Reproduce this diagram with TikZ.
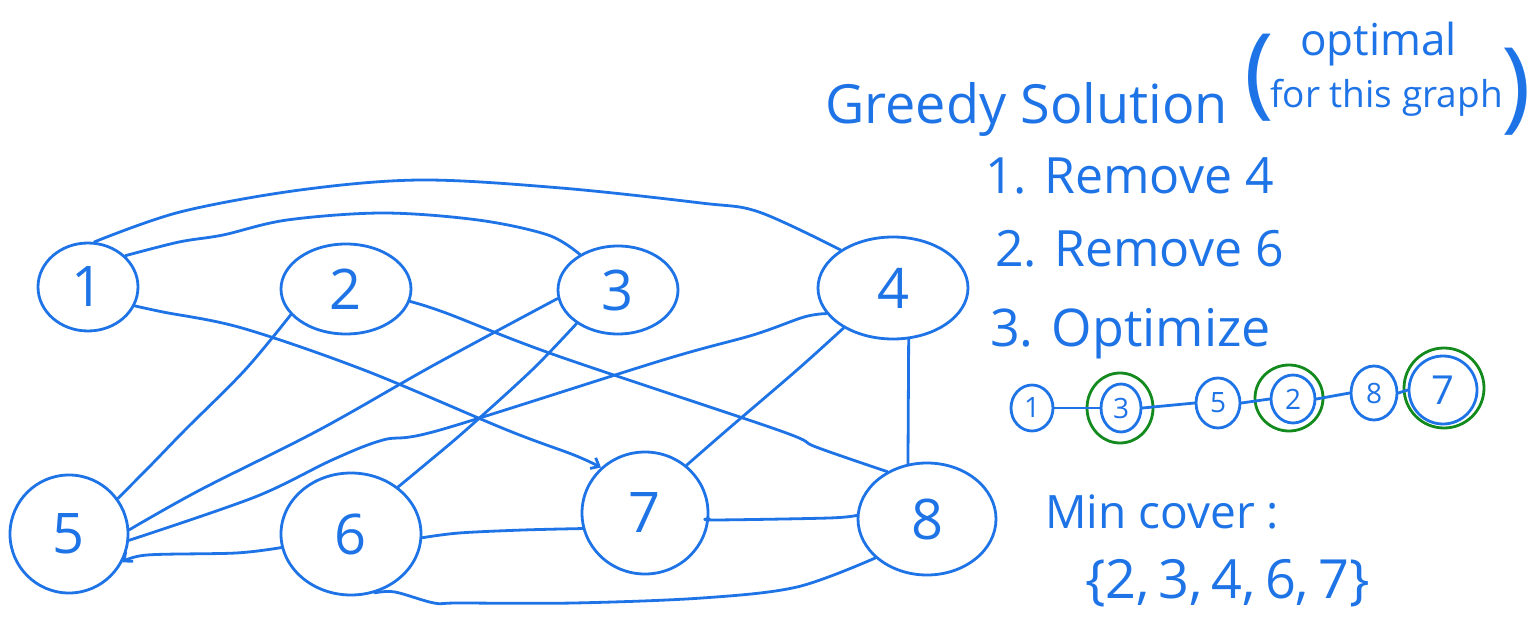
\documentclass[tikz,border=0pt]{standalone}
\usepackage{fontspec}
\setmainfont{Open Sans}
\usetikzlibrary{shapes.geometric,arrows.meta}
\definecolor{ink}{HTML}{1E74E6}
\definecolor{gink}{HTML}{138A1E}
\begin{document}
\begin{tikzpicture}[x=1pt,y=-1pt,
  pen/.style={draw=ink, line width=2.8pt, line cap=round, line join=round},
  gnode/.style={pen, ellipse, inner sep=0pt, text=ink, font=\fontsize{56}{56}\selectfont},
  cnode/.style={pen, ellipse, inner sep=0pt, text=ink, font=\fontsize{28}{28}\selectfont},
  gring/.style={draw=gink, line width=2.8pt, ellipse, inner sep=0pt},
  hand/.style={text=ink, inner sep=0pt, anchor=base west},
  barb/.style={-{Straight Barb[length=7pt,width=12pt]}}
]
\fill[white] (0,0) rectangle (1528,620);
\useasboundingbox (0,0) rectangle (1528,620);

% main graph nodes
\node[gnode, minimum width=100pt, minimum height=88pt]  (n1) at (88,287)  {1};
\node[gnode, minimum width=130pt, minimum height=90pt]  (n2) at (346,289) {2};
\node[gnode, minimum width=120pt, minimum height=88pt]  (n3) at (618,290) {3};
\node[gnode, minimum width=150pt, minimum height=102pt] (n4) at (893,288) {4};
\node[gnode, minimum width=118pt, minimum height=118pt] (n5) at (69,534)  {5};
\node[gnode, minimum width=140pt, minimum height=122pt] (n6) at (351,534) {6};
\node[gnode, minimum width=126pt, minimum height=122pt] (n7) at (645,513) {7};
\node[gnode, minimum width=138pt, minimum height=112pt] (n8) at (927,519) {8};

% edges
\draw[pen] plot[smooth, tension=0.55] coordinates {(n1.82) (180,212) (300,190) (421,180) (561,188) (701,203) (759,212) (n4.144)};
\draw[pen] plot[smooth, tension=0.55] coordinates {(n1.40) (179,242) (223,235) (287,220) (383,213) (478,220) (548,235) (n3.137)};
\draw[pen, barb] plot[smooth, tension=0.55] coordinates {(n1.-22) (163,312) (242,328) (364,370) (507,430) (574,455) (n7.134)};
\draw[pen] plot[smooth, tension=0.55] coordinates {(n2.-11) (446,313) (555,355) (778,430) (816,447) (n8.130)};
\draw[pen] plot[smooth, tension=0.55] coordinates {(n2.205) (245,370) (185,430) (153,463) (n5.36)};
\draw[pen] plot[smooth, tension=0.55] coordinates {(n3.188) (434,365) (319,430) (200,490) (n5.4)};
\draw[pen] plot[smooth, tension=0.55] coordinates {(n3.219) (532,370) (466,430) (427,463) (n6.45)};
\draw[pen] plot[smooth, tension=0.55] coordinates {(n4.201) (804,317) (753,335) (663,360) (440,430) (383,440) (332,460) (255,497) (n5.-6)};
\draw[pen] plot[smooth, tension=0.55] coordinates {(n4.219) (797,370) (727,430) (n7.49)};
\draw[pen] (n4.-73) -- (n8.109);
\draw[pen, barb] plot[smooth, tension=0.55] coordinates {(n6.191) (236,553) (147,555) (n5.-28)};
\draw[pen] plot[smooth, tension=0.55] coordinates {(n6.-3) (459,533) (523,530) (n7.194)};
\draw[pen] plot[smooth, tension=0.55] coordinates {(n7.-5) (714,520) (829,518) (n8.177)};
\draw[pen] plot[smooth, tension=0.55] coordinates {(n6.-68) (395,592) (434,603) (459,603) (574,603) (702,598) (797,587) (n8.217)};

% right side text
\node[hand, font=\fontsize{54}{54}\selectfont] (t1) at (825,124) {Greedy Solution};
\node[text=ink, inner sep=0pt, font=\fontsize{100}{100}\selectfont] (po) at (1259,78) {(};
\node[hand, font=\fontsize{44}{44}\selectfont] (t2) at (1300,56) {optimal};
\node[hand, font=\fontsize{37}{37}\selectfont] (t3) at (1270,108) {for this graph};
\node[text=ink, inner sep=0pt, font=\fontsize{100}{100}\selectfont] (pc) at (1516,92) {)};
\node[hand, font=\fontsize{50}{50}\selectfont] (s1) at (985,194) {1. Remove 4};
\node[hand, font=\fontsize{50}{50}\selectfont] (s2) at (995,266) {2. Remove 6};
\node[hand, font=\fontsize{52}{52}\selectfont] (s3) at (990,346) {3. Optimize};

% chain
\node[cnode, minimum width=42pt, minimum height=46pt] (c1) at (1032,408) {1};
\node[cnode, minimum width=40pt, minimum height=48pt] (c3) at (1121,408) {3};
\node[gring, minimum width=66pt, minimum height=70pt] (g3) at (1120,408) {};
\node[cnode, minimum width=44pt, minimum height=50pt] (c5) at (1218,403) {5};
\node[cnode, minimum width=44pt, minimum height=48pt] (c2) at (1293,399) {2};
\node[gring, minimum width=68pt, minimum height=66pt] (g2) at (1289,398) {};
\node[cnode, minimum width=46pt, minimum height=54pt] (c8) at (1374,393) {8};
\node[cnode, minimum width=68pt, minimum height=68pt, font=\fontsize{40}{40}\selectfont] (c7) at (1443,390) {7};
\node[gring, minimum width=80pt, minimum height=80pt] (g7) at (1444,388) {};
\draw[pen] (c1.east) -- (c3.west);
\draw[pen] (c3.east) -- (c5.west);
\draw[pen] (c2.west) -- (c5.east);
\draw[pen] (c2.east) -- (c8.west);
\draw[pen] (c8.east) -- (c7.west);

\node[hand, font=\fontsize{46}{46}\selectfont] (m1) at (1045,528) {Min cover :};
\node[hand, font=\fontsize{54}{54}\selectfont] (m2) at (1085,598) {\{2,\,3,\,4,\,6,\,7\}};
\end{tikzpicture}
\end{document}
